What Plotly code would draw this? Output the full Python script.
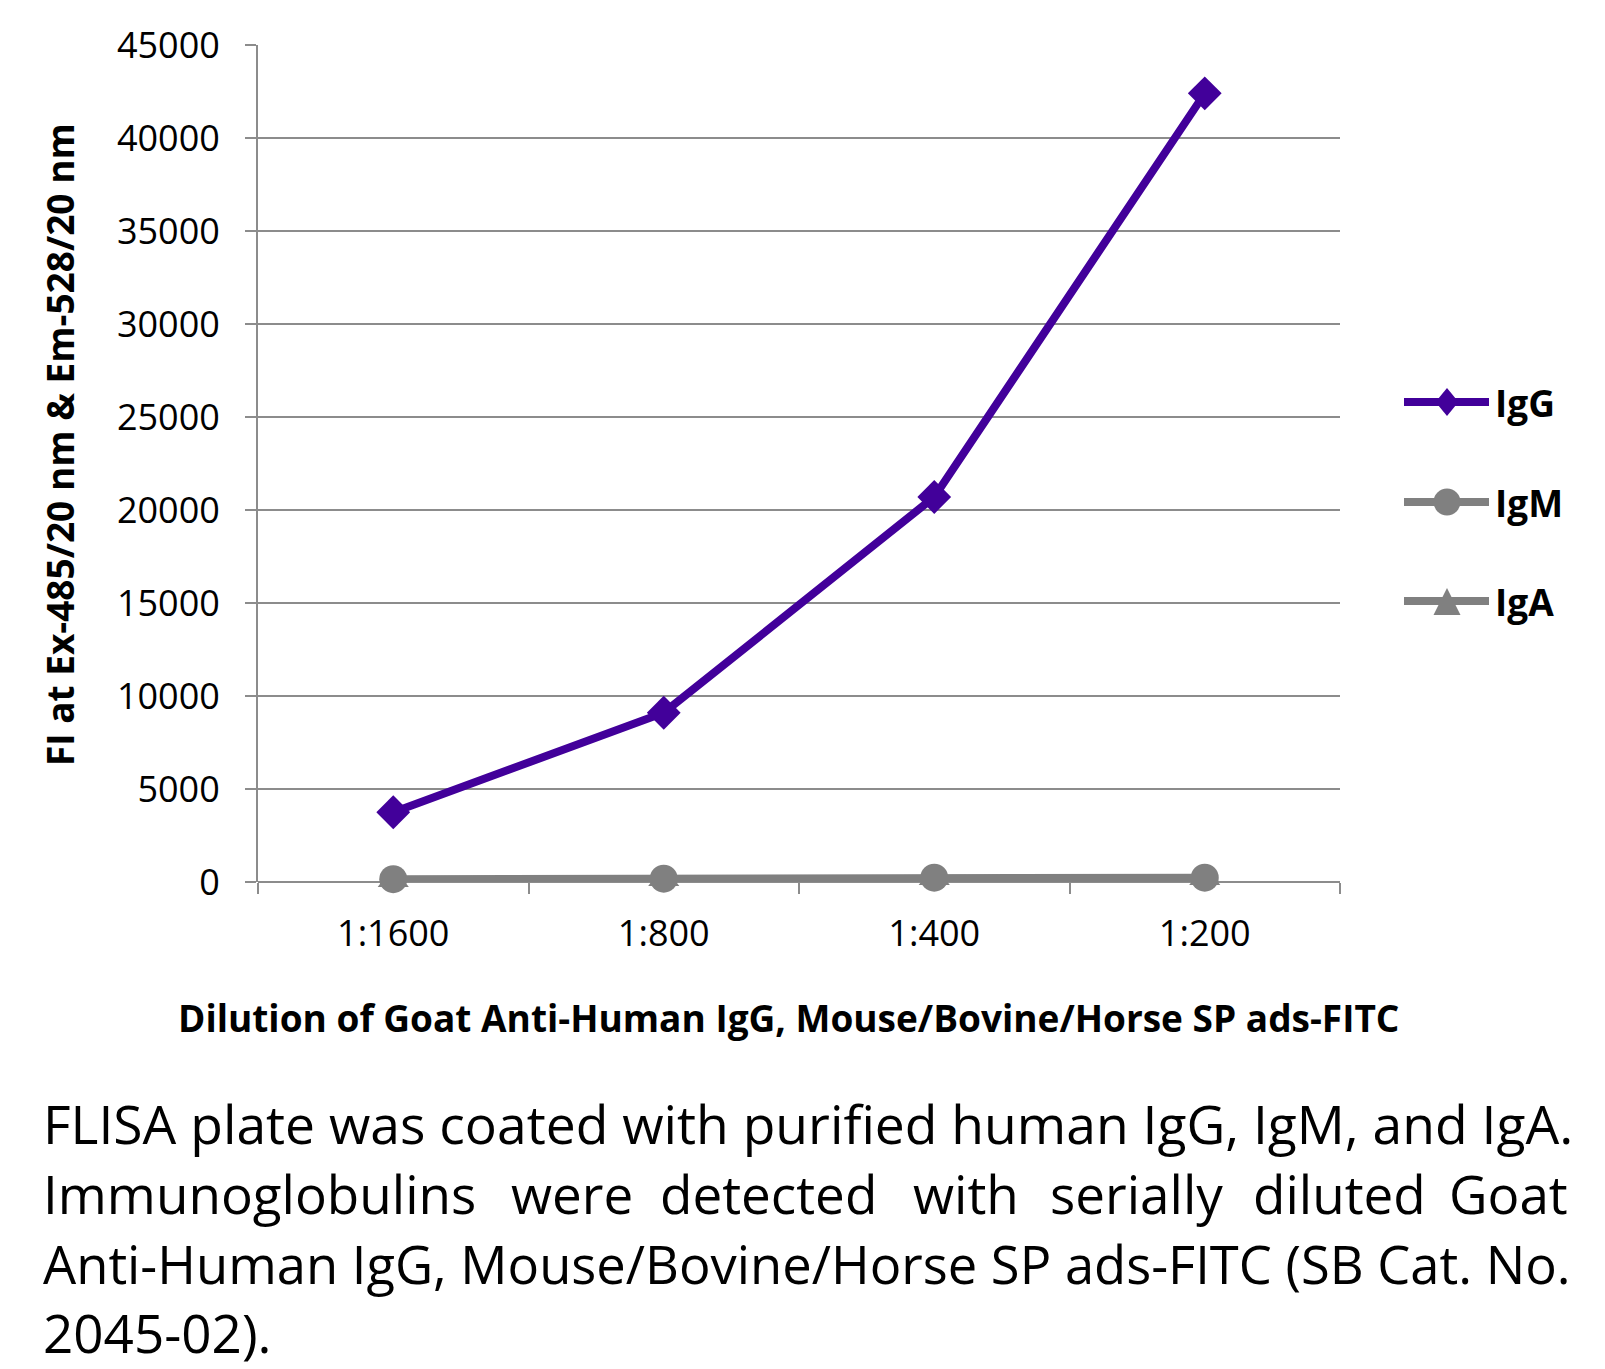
import plotly.graph_objects as go

dilutions = ["1:1600", "1:800", "1:400", "1:200"]
igg = [3750, 9100, 20700, 42400]
igm = [150, 180, 230, 230]
iga = [100, 150, 200, 200]
y_ticks = [0, 5000, 10000, 15000, 20000, 25000, 30000, 35000, 40000, 45000]
series_names = ["IgG", "IgM", "IgA"]

PURPLE = "#42009a"
GREY = "#808080"
FONT = "Open Sans"

OFF = 8  # browser body margin
W, H = 1605 - OFF, 1369 - OFF
L, R, T, B = 258 - OFF, 1340 - OFF, 45 - OFF, 882 - OFF


def px(x):
    return (x - OFF - L) / (R - L)


def py(y):
    return (B - (y - OFF)) / (B - T)


fig = go.Figure()
fig.add_trace(go.Scatter(x=dilutions, y=igg, name="IgG", mode="lines+markers",
                         line=dict(color=PURPLE, width=8), cliponaxis=False,
                         marker=dict(symbol="diamond", size=26, color=PURPLE)))
fig.add_trace(go.Scatter(x=dilutions, y=iga, name="IgA", mode="lines+markers",
                         line=dict(color=GREY, width=8), cliponaxis=False,
                         marker=dict(symbol="triangle-up", size=27, color=GREY)))
fig.add_trace(go.Scatter(x=dilutions, y=igm, name="IgM", mode="lines+markers",
                         line=dict(color=GREY, width=8), cliponaxis=False,
                         marker=dict(symbol="circle", size=28, color=GREY)))

fig.update_layout(
    width=W, height=H,
    margin=dict(l=L, r=W - R, t=T, b=H - B, pad=0),
    paper_bgcolor="white", plot_bgcolor="white",
    font=dict(family=FONT, color="black", size=36),
    showlegend=False,
    xaxis=dict(type="category", showgrid=False, showline=False, zeroline=False,
               ticks="outside", tickson="boundaries", ticklen=11, tickwidth=2,
               tickcolor="#8c8c8c", tickfont=dict(size=36, family=FONT),
               ticklabelstandoff=27, range=[-0.5, 3.5]),
    yaxis=dict(range=[0, 45000], tickvals=y_ticks, tickformat="d", showgrid=True,
               gridcolor="#8c8c8c", gridwidth=2, showline=True, linecolor="#8c8c8c",
               linewidth=2, ticks="outside", ticklen=11, tickwidth=2,
               tickcolor="#8c8c8c", zeroline=True, zerolinecolor="#8c8c8c",
               zerolinewidth=2, tickfont=dict(size=36, family=FONT),
               ticklabelstandoff=18),
)

ann = []
shapes = []

# custom legend (long sample lines with large markers, like the original)
leg_y = [402, 502, 601]
leg_col = [PURPLE, GREY, GREY]
for name, ly, col in zip(series_names, leg_y, leg_col):
    shapes.append(dict(type="line", xref="paper", yref="paper",
                       x0=px(1404), x1=px(1489), y0=py(ly), y1=py(ly),
                       line=dict(color=col, width=8)))
    cx = 1447
    if name == "IgG":
        path = "M {} {} L {} {} L {} {} L {} {} Z".format(
            px(cx), py(ly - 14), px(cx + 11.5), py(ly), px(cx), py(ly + 14), px(cx - 11.5), py(ly))
        shapes.append(dict(type="path", xref="paper", yref="paper", path=path,
                           fillcolor=col, line=dict(width=0)))
    elif name == "IgM":
        shapes.append(dict(type="circle", xref="paper", yref="paper",
                           x0=px(cx - 13.5), x1=px(cx + 13.5), y0=py(ly - 13.5), y1=py(ly + 13.5),
                           fillcolor=col, line=dict(width=0)))
    else:
        path = "M {} {} L {} {} L {} {} Z".format(
            px(cx), py(ly - 13), px(cx + 13.5), py(ly + 14), px(cx - 13.5), py(ly + 14))
        shapes.append(dict(type="path", xref="paper", yref="paper", path=path,
                           fillcolor=col, line=dict(width=0)))
    ann.append(dict(text="<b>%s</b>" % name, xref="paper", yref="paper",
                    x=px(1493), y=py(ly), xanchor="left", yanchor="middle",
                    showarrow=False, font=dict(size=37, family=FONT)))

ann.append(dict(text="<b>FI at Ex-485/20 nm & Em-528/20 nm</b>", textangle=-90,
                xref="paper", yref="paper", x=px(59), y=py(445),
                xanchor="center", yanchor="middle", showarrow=False,
                font=dict(size=37, family=FONT)))
ann.append(dict(text="<b>Dilution of Goat Anti-Human IgG, Mouse/Bovine/Horse SP ads-FITC</b>",
                xref="paper", yref="paper", x=px(788), y=py(1018),
                xanchor="center", yanchor="middle", showarrow=False,
                font=dict(size=37, family=FONT)))

lines = [
    "FLISA plate was coated with purified human IgG, IgM, and IgA.",
    None,
    "Anti-Human IgG, Mouse/Bovine/Horse SP ads-FITC (SB Cat. No.",
    "2045-02).",
]
line_sizes = [53.4, 53, 52.5, 53]
line_y = [1123, 1193, 1263, 1332]
for ln, yy, fs in zip(lines, line_y, line_sizes):
    if ln is None:
        continue
    ann.append(dict(text=ln, xref="paper", yref="paper", x=px(41),
                    y=py(yy), xanchor="left", yanchor="middle",
                    showarrow=False, font=dict(size=fs, family=FONT)))
words2 = ["Immunoglobulins", "were", "detected", "with", "serially", "diluted", "Goat"]
starts2 = [41, 509, 658, 911, 1048, 1251, 1458]
for w, sx in zip(words2, starts2):
    anchor = "left"
    xx = sx
    if w == "Goat":
        anchor = "right"
        xx = 1570
    ann.append(dict(text=w, xref="paper", yref="paper", x=px(xx),
                    y=py(line_y[1]), xanchor=anchor, yanchor="middle",
                    showarrow=False, font=dict(size=line_sizes[1], family=FONT)))
fig.update_layout(annotations=ann, shapes=shapes)

fig.write_html("out.html")
